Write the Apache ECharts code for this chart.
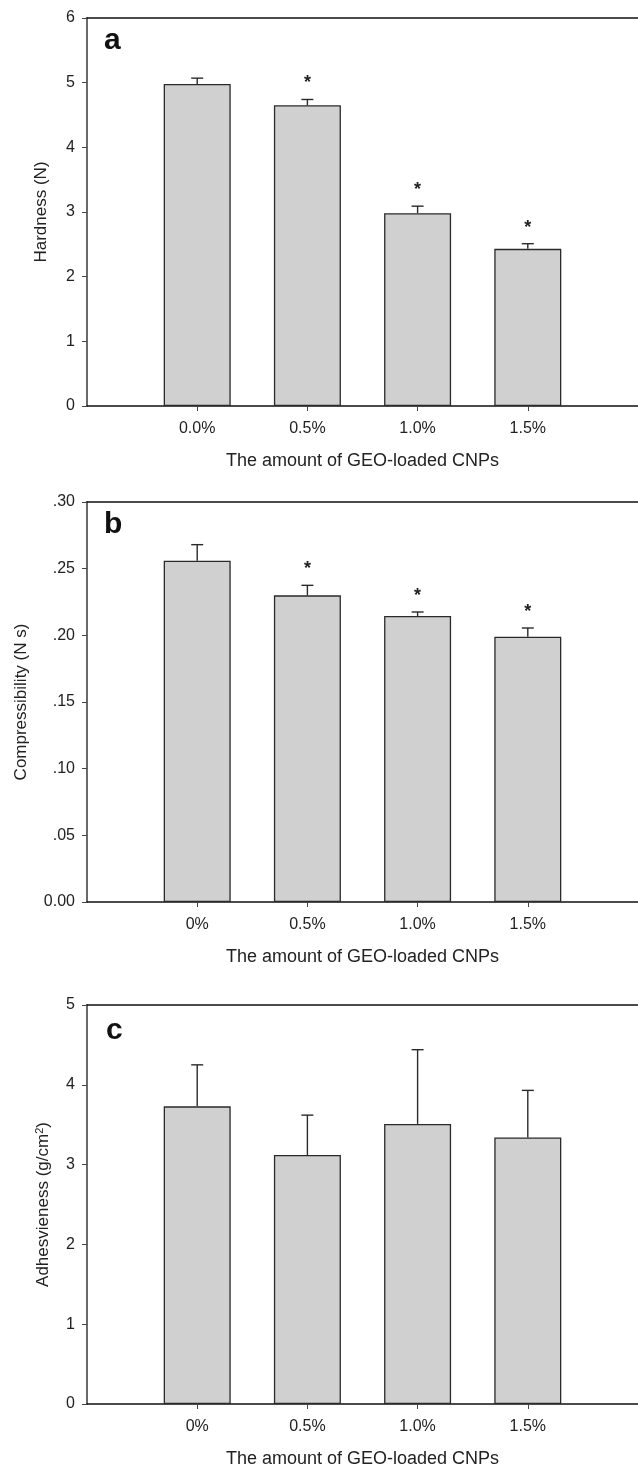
<!DOCTYPE html>
<html>
<head>
    <meta charset="utf-8"/>
    <script src="https://cdn.jsdelivr.net/npm/echarts@6/dist/echarts.min.js"></script>
    <style>
        body { margin: 0; background: #fff; }
    </style>
</head>
<body>
<div id="main" style="width: 638px;height:1469px;"></div>
<script type="text/javascript">
    // data
    var catsA = ['0.0%', '0.5%', '1.0%', '1.5%'];
    var catsBC = ['0%', '0.5%', '1.0%', '1.5%'];

    var hardness = [4.98, 4.65, 2.98, 2.43];
    var hardnessErr = [0.09, 0.09, 0.11, 0.08];
    var hardnessSig = [false, true, true, true];

    var compress = [0.256, 0.230, 0.2145, 0.199];
    var compressErr = [0.012, 0.0075, 0.003, 0.0065];
    var compressSig = [false, true, true, true];

    var adhes = [3.73, 3.12, 3.51, 3.34];
    var adhesErr = [0.52, 0.50, 0.93, 0.59];
    var adhesSig = [false, false, false, false];

    var font = 'Liberation Sans, Arial, sans-serif';

    var myChart = echarts.init(document.getElementById('main'));

    var grids = [
        {left: 87, width: 553, top: 18, height: 388},
        {left: 87, width: 553, top: 502, height: 400},
        {left: 87, width: 553, top: 1005, height: 400}
    ];

    function xAxes(i, cats) {
        return [{
            type: 'value', gridIndex: i, min: -1, max: 4, position: 'bottom',
            splitLine: {show: false},
            axisLine: {onZero: false, lineStyle: {color: '#111', width: 1.5}},
            axisTick: {customValues: [0, 1, 2, 3], length: 5, lineStyle: {color: '#444'}},
            axisLabel: {
                customValues: [0, 1, 2, 3], margin: 15, color: '#222', fontSize: 16, fontFamily: font,
                formatter: function (v) { return cats[Math.round(v)]; }
            },
            name: 'The amount of GEO-loaded CNPs', nameLocation: 'middle', nameGap: 46,
            nameTextStyle: {color: '#222', fontSize: 18, fontFamily: font}
        }, {
            type: 'value', gridIndex: i, min: -1, max: 4, position: 'top',
            splitLine: {show: false},
            axisLine: {onZero: false, lineStyle: {color: '#111', width: 1.5}},
            axisTick: {show: false}, axisLabel: {show: false}
        }];
    }

    function yAxis(i, max, interval, name, gap, fmt) {
        return {
            type: 'value', gridIndex: i, min: 0, max: max, interval: interval,
            splitLine: {show: false},
            axisLine: {show: true, onZero: false, lineStyle: {color: '#6a6a6a', width: 2}},
            axisTick: {show: true, length: 5, lineStyle: {color: '#444'}},
            axisLabel: {margin: 12, color: '#222', fontSize: 16, fontFamily: font, formatter: fmt},
            name: name, nameLocation: 'middle', nameGap: gap, nameMoveOverlap: false,
            nameTextStyle: {
                color: '#222', fontSize: 17, fontFamily: font,
                rich: {sup: {fontSize: 11, verticalAlign: 'top', color: '#222', fontFamily: font, padding: [0, 0, 7, 0]}}
            }
        };
    }

    function barSeries(i, vals) {
        return {
            type: 'bar', xAxisIndex: i * 2, yAxisIndex: i, barWidth: 67,
            itemStyle: {color: '#d0d0d0', borderColor: '#2a2a2a', borderWidth: 1.3},
            data: vals.map(function (v, k) { return [k, v]; }),
            silent: true
        };
    }

    function errSeries(i, vals, errs, sig) {
        return {
            type: 'custom', xAxisIndex: i * 2, yAxisIndex: i, silent: true, z: 5,
            data: vals.map(function (v, k) { return [k, v, errs[k], sig[k] ? 1 : 0]; }),
            renderItem: function (params, api) {
                var x = api.value(0);
                var p0 = api.coord([x, api.value(1)]);
                var p1 = api.coord([x, api.value(1) + api.value(2)]);
                var style = {stroke: '#2a2a2a', lineWidth: 1.4};
                var kids = [
                    {type: 'line', shape: {x1: p0[0], y1: p0[1], x2: p1[0], y2: p1[1]}, style: style},
                    {type: 'line', shape: {x1: p1[0] - 6, y1: p1[1], x2: p1[0] + 6, y2: p1[1]}, style: style}
                ];
                if (api.value(3)) {
                    kids.push({
                        type: 'text',
                        style: {
                            text: '*', x: p1[0], y: p1[1] - 7, align: 'center', verticalAlign: 'bottom',
                            font: 'bold 18px ' + font, fill: '#222'
                        }
                    });
                }
                return {type: 'group', children: kids};
            }
        };
    }

    function letter(t, x, y) {
        return {
            type: 'text', left: x, top: y,
            style: {text: t, font: 'bold 30px ' + font, fill: '#111'}
        };
    }

    var option = {
        animation: false,
        grid: grids,
        xAxis: [].concat(xAxes(0, catsA), xAxes(1, catsBC), xAxes(2, catsBC)),
        yAxis: [
            yAxis(0, 6, 1, 'Hardness (N)', 37),
            yAxis(1, 0.30, 0.05, 'Compressibility (N s)', 57, function (v) {
                return v === 0 ? '0.00' : v.toFixed(2).replace(/^0/, '');
            }),
            yAxis(2, 5, 1, 'Adhesvieness (g/cm{sup|2})', 35)
        ],
        series: [
            barSeries(0, hardness), errSeries(0, hardness, hardnessErr, hardnessSig),
            barSeries(1, compress), errSeries(1, compress, compressErr, compressSig),
            barSeries(2, adhes), errSeries(2, adhes, adhesErr, adhesSig)
        ],
        graphic: [
            letter('a', 104, 26),
            letter('b', 104, 510),
            letter('c', 106, 1016)
        ]
    };

    myChart.setOption(option);
</script>
</body>
</html>
